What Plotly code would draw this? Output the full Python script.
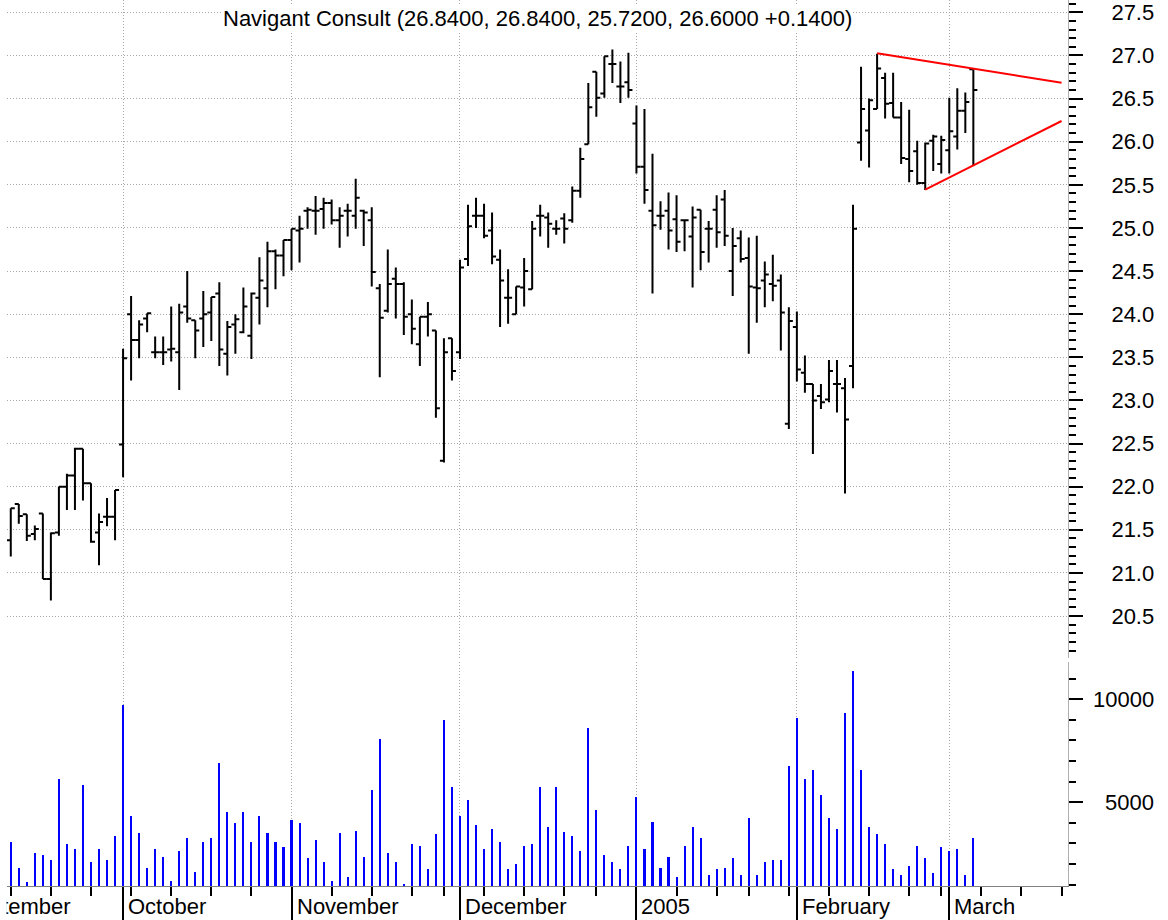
import pandas as pd
import plotly.graph_objects as go

# ---------------- data ----------------
title_text = "Navigant Consult (26.8400, 26.8400, 25.7200, 26.6000 +0.1400)"
first_date = "2004-09-13"
holidays = ["2004-09-06", "2004-11-25", "2004-12-24", "2005-01-17", "2005-02-21", "2005-03-25"]

opens = [21.38, 21.80, 21.68, 21.45, 21.69, 20.93, 21.47, 22.00, 22.13, 22.44,
         22.04, 21.47, 21.65, 21.65, 22.49, 24.00, 23.70, 23.95, 23.56, 23.56,
         23.59, 23.56, 24.09, 23.93, 23.95, 24.02, 24.24, 23.54, 23.88, 23.79,
         23.75, 24.19, 24.30, 24.73, 24.68, 24.86, 24.97, 25.20, 25.20, 25.22,
         25.29, 25.09, 25.20, 25.14, 25.20, 25.09, 24.30, 24.04, 24.41, 24.35,
         24.00, 23.65, 23.97, 23.81, 22.30, 23.72, 23.56, 24.64, 25.14, 25.14,
         24.97, 24.63, 24.19, 24.00, 24.31, 24.29, 25.14, 25.12, 24.99, 25.11,
         25.09, 25.43, 25.97, 26.81, 26.56, 26.90, 26.64, 26.69, 26.21, 25.71,
         25.20, 25.14, 25.20, 25.10, 25.09, 24.90, 25.21, 24.99, 25.21, 25.33,
         24.50, 24.88, 24.65, 24.31, 24.39, 24.35, 24.39, 22.73, 23.85, 23.32,
         23.19, 23.05, 23.01, 23.19, 23.14, 23.40, 25.99, 26.13, 26.38, 26.74,
         26.45, 26.28, 25.80, 25.89, 25.52, 26.01, 25.74, 25.90, 26.06, 26.36,
         26.84]
highs = [21.75, 21.80, 21.68, 21.55, 21.69, 21.47, 22.00, 22.15, 22.45, 22.44,
         22.04, 21.69, 21.87, 21.96, 23.60, 24.21, 23.93, 24.01, 23.74, 23.74,
         24.09, 24.12, 24.50, 23.93, 24.27, 24.20, 24.37, 23.92, 24.00, 24.31,
         24.25, 24.66, 24.84, 24.75, 24.86, 24.99, 25.14, 25.24, 25.37, 25.35,
         25.33, 25.24, 25.28, 25.57, 25.21, 25.24, 24.35, 24.75, 24.54, 24.37,
         24.17, 23.97, 24.14, 23.81, 23.72, 23.72, 24.63, 25.27, 25.35, 25.28,
         25.18, 24.75, 24.52, 24.32, 24.65, 25.08, 25.27, 25.18, 25.09, 25.17,
         25.48, 25.93, 26.68, 26.81, 26.99, 27.07, 26.93, 27.03, 26.42, 26.38,
         25.86, 25.31, 25.41, 25.38, 25.09, 25.25, 25.21, 25.08, 25.38, 25.44,
         25.00, 24.97, 24.89, 24.91, 24.61, 24.69, 24.46, 24.08, 24.03, 23.52,
         23.19, 23.19, 23.47, 23.47, 23.26, 25.27, 26.87, 26.50, 27.02, 26.80,
         26.80, 26.46, 26.37, 26.01, 25.99, 26.08, 26.07, 26.51, 26.62, 26.57,
         26.84]
lows = [21.19, 21.57, 21.37, 21.38, 20.93, 20.68, 21.43, 21.73, 21.73, 21.84,
        21.35, 21.09, 21.54, 21.38, 22.11, 23.23, 23.49, 23.79, 23.49, 23.41,
        23.45, 23.12, 23.90, 23.49, 23.62, 23.69, 23.40, 23.29, 23.54, 23.78,
        23.48, 23.88, 24.08, 24.29, 24.44, 24.51, 24.60, 24.99, 24.92, 24.99,
        25.04, 24.77, 24.90, 24.99, 24.79, 24.32, 23.27, 24.02, 23.95, 23.76,
        23.65, 23.40, 23.74, 22.80, 22.28, 23.23, 23.48, 24.56, 25.00, 24.88,
        24.58, 23.85, 23.89, 24.00, 24.09, 24.29, 24.90, 24.77, 24.92, 24.82,
        25.06, 25.35, 25.97, 26.29, 26.51, 26.68, 26.45, 26.51, 25.63, 25.28,
        24.24, 24.98, 24.75, 24.72, 24.73, 24.31, 24.51, 24.60, 24.77, 24.79,
        24.21, 24.60, 23.54, 23.90, 24.08, 24.15, 23.58, 22.67, 23.22, 23.09,
        22.38, 22.90, 22.98, 22.86, 21.92, 23.14, 25.78, 25.70, 26.38, 26.27,
        26.28, 25.74, 25.53, 25.50, 25.44, 25.66, 25.63, 25.63, 25.91, 26.10,
        25.72]
closes = [21.75, 21.66, 21.43, 21.51, 20.93, 21.46, 22.00, 22.13, 22.44, 22.04,
          21.36, 21.59, 21.65, 21.96, 23.49, 23.70, 23.88, 24.01, 23.56, 23.56,
          23.60, 24.02, 23.95, 23.81, 24.00, 24.20, 23.59, 23.85, 23.94, 24.09,
          24.24, 24.39, 24.73, 24.68, 24.86, 24.99, 24.99, 25.21, 25.20, 25.29,
          25.09, 25.14, 25.20, 25.35, 25.18, 24.49, 23.96, 24.35, 24.35, 23.97,
          23.83, 23.97, 24.00, 22.91, 23.56, 23.34, 24.54, 25.02, 25.14, 24.91,
          24.67, 24.39, 24.19, 24.32, 24.50, 24.99, 25.14, 25.05, 24.99, 24.99,
          25.43, 25.80, 26.40, 26.51, 26.99, 26.90, 26.64, 26.60, 25.71, 25.44,
          25.03, 25.14, 24.97, 24.84, 25.09, 25.12, 24.72, 24.99, 24.95, 24.91,
          24.79, 24.64, 24.32, 24.30, 24.46, 24.33, 24.02, 23.92, 23.36, 23.19,
          23.00, 22.98, 23.34, 23.19, 22.78, 24.99, 26.38, 26.48, 26.85, 26.44,
          26.28, 25.81, 25.66, 25.52, 25.98, 26.06, 26.02, 26.12, 26.36, 26.46,
          26.60]
volumes = [3083, 1825, 1100, 2551, 2454, 2180, 6115, 2986, 2712, 5841,
           2083, 2712, 2180, 3341, 9696, 4325, 3519, 1825, 2712, 2357,
           1196, 2631, 3244, 1631, 3083, 3244, 6922, 4502, 3970, 4502,
           3083, 4325, 3519, 3083, 2809, 4131, 3970, 2277, 3164, 2099,
           1196, 3519, 1373, 3615, 2357, 5567, 8083, 2535, 2099, 1035,
           2986, 2889, 1744, 3438, 8970, 5744, 4325, 5115, 3873, 2712,
           3696, 3067, 1744, 2002, 2889, 2985, 5758, 3790, 5758, 3532,
           3339, 2629, 8613, 4597, 2451, 2097, 1742, 2887, 5226, 2710,
           4048, 1822, 2355, 1371, 2887, 3790, 3242, 1467, 1742, 1822,
           2274, 1467, 4242, 1467, 2097, 2177, 2177, 6742, 9065, 6113,
           6565, 5323, 4242, 3710, 9339, 11388, 6565, 3790, 3435, 2984,
           1742, 1467, 1903, 2887, 2274, 1548, 2806, 2629, 2710, 1467,
           3242]

# trend lines drawn on the chart (date, price)
upper_trend_dates = ["2005-02-15", "2005-03-21"]
upper_trend_prices = [27.025, 26.684]
lower_trend_dates = ["2005-02-24", "2005-03-21"]
lower_trend_prices = [25.443, 26.24]

month_labels = ["September", "October", "November", "December", "2005", "February", "March"]
price_ticks = [20.5, 21.0, 21.5, 22.0, 22.5, 23.0, 23.5, 24.0, 24.5, 25.0, 25.5, 26.0, 26.5, 27.0, 27.5]
volume_ticks = [5000, 10000]

# ---------------- trading calendar (x positions) ----------------
cal = [d for d in pd.bdate_range("2004-09-01", "2005-03-31") if d.strftime("%Y-%m-%d") not in holidays]
cal_str = [d.strftime("%Y-%m-%d") for d in cal]
origin = cal_str.index(first_date)
pos = {s: i - origin for i, s in enumerate(cal_str)}
x = [pos[s] for s in cal_str[origin:origin + len(closes)]]

month_pos, week_pos = [], []
seen_m, seen_w = set(), set()
for d, s in zip(cal, cal_str):
    m = (d.year, d.month)
    w = tuple(d.isocalendar()[:2])
    if m not in seen_m:
        seen_m.add(m)
        month_pos.append(pos[s])
    if w not in seen_w:
        seen_w.add(w)
        week_pos.append(pos[s])

ux = [pos[s] for s in upper_trend_dates]
lx = [pos[s] for s in lower_trend_dates]

# ---------------- figure ----------------
FONT = "Arial, Liberation Sans, sans-serif"
GRID = "#a8a8a8"
xr = [-0.47, 131.8]
price_dom = [0.2573, 1.0]
vol_dom = [0.0, 0.2528]

fig = go.Figure()
fig.add_trace(go.Bar(x=x, y=volumes, width=0.26, marker=dict(color="#0000ff", line=dict(width=0)),
                     xaxis="x", yaxis="y", showlegend=False, hoverinfo="skip"))
fig.add_trace(go.Ohlc(x=x, open=opens, high=highs, low=lows, close=closes, tickwidth=0.5,
                      increasing=dict(line=dict(color="black", width=2)),
                      decreasing=dict(line=dict(color="black", width=2)),
                      xaxis="x2", yaxis="y2", showlegend=False, hoverinfo="skip"))
fig.add_trace(go.Scatter(x=ux, y=upper_trend_prices, mode="lines", line=dict(color="#ff0000", width=2),
                         xaxis="x2", yaxis="y2", showlegend=False, hoverinfo="skip"))
fig.add_trace(go.Scatter(x=lx, y=lower_trend_prices, mode="lines", line=dict(color="#ff0000", width=2),
                         xaxis="x2", yaxis="y2", showlegend=False, hoverinfo="skip"))

annotations = [dict(text=title_text, xref="paper", yref="paper", x=0.5, y=1.0, xanchor="center",
                    yanchor="top", yshift=-5, showarrow=False, bgcolor="white", borderpad=0,
                    font=dict(family=FONT, size=22, color="black"))]
for k, (mp, lab) in enumerate(zip(month_pos, month_labels)):
    # month labels start just right of the month tick; paper coords so a label whose
    # month began before the visible range is still drawn (then clipped at the left)
    px = (mp - xr[0]) / (xr[1] - xr[0])
    annotations.append(dict(text=lab, xref="paper", yref="paper", x=px, y=0, xanchor="left",
                            yanchor="top", xshift=3 if k else 6, yshift=-6, showarrow=False,
                            font=dict(family=FONT, size=22, color="black")))
# white mask over the left margin: clips the partial first month label at the plot edge
annotations.append(dict(text=" ", xref="paper", yref="paper", x=0, y=0, xanchor="right",
                        yanchor="top", width=8, height=34, bgcolor="white", borderpad=0,
                        showarrow=False, font=dict(size=10)))
for v in volume_ticks:
    annotations.append(dict(text=str(v), xref="paper", yref="y", x=1.083, y=v, xanchor="right",
                            yanchor="middle", showarrow=False,
                            font=dict(family=FONT, size=22, color="black")))

fig.update_layout(
    width=1168, height=920,
    margin=dict(l=7, r=100, t=0, b=34),
    paper_bgcolor="white", plot_bgcolor="white",
    showlegend=False, bargap=0, hovermode=False,
    annotations=annotations,
    xaxis=dict(domain=[0, 1], range=xr, anchor="y", tickmode="array", tickvals=month_pos,
               showticklabels=False, ticks="outside", ticklen=34, tickwidth=2, tickcolor="black",
               showline=True, linecolor="#808080", linewidth=1,
               showgrid=True, gridcolor=GRID, griddash="1px,2px", gridwidth=1, zeroline=False,
               minor=dict(tickmode="array", tickvals=week_pos, ticks="outside", ticklen=9,
                          tickwidth=2, tickcolor="black", showgrid=False),
               rangeslider=dict(visible=False)),
    xaxis2=dict(domain=[0, 1], range=xr, anchor="y2", matches="x", tickmode="array", tickvals=month_pos,
                showticklabels=False, ticks="", showline=False,
                showgrid=True, gridcolor=GRID, griddash="1px,2px", gridwidth=1, zeroline=False,
                rangeslider=dict(visible=False)),
    yaxis=dict(domain=vol_dom, range=[930, 11803], side="right", anchor="x",
               tickmode="array", tickvals=volume_ticks, showticklabels=False,
               ticks="outside", ticklen=14, tickwidth=2, tickcolor="black",
               showline=True, linecolor="#b0b0b0", linewidth=1, showgrid=False, zeroline=False,
               minor=dict(dtick=1000, tick0=0, ticks="outside", ticklen=7, tickwidth=2,
                          tickcolor="black", showgrid=False)),
    yaxis2=dict(domain=price_dom, range=[20.013, 27.643], side="right", anchor="x2",
                tickmode="array", tickvals=price_ticks, ticktext=[f"{v:.1f}" for v in price_ticks],
                ticks="outside", ticklen=14, tickwidth=2, tickcolor="black", ticklabelstandoff=24,
                tickfont=dict(family=FONT, size=22, color="black"),
                showline=True, linecolor="#b0b0b0", linewidth=1,
                showgrid=True, gridcolor=GRID, griddash="1px,2px", gridwidth=1, zeroline=False,
                minor=dict(dtick=0.1, tick0=20, ticks="outside", ticklen=7, tickwidth=2,
                           tickcolor="black", showgrid=False)),
)

fig.write_html("out.html", config={"displayModeBar": False},
               post_script="document.body.style.margin='0';document.body.style.overflow='hidden';")
